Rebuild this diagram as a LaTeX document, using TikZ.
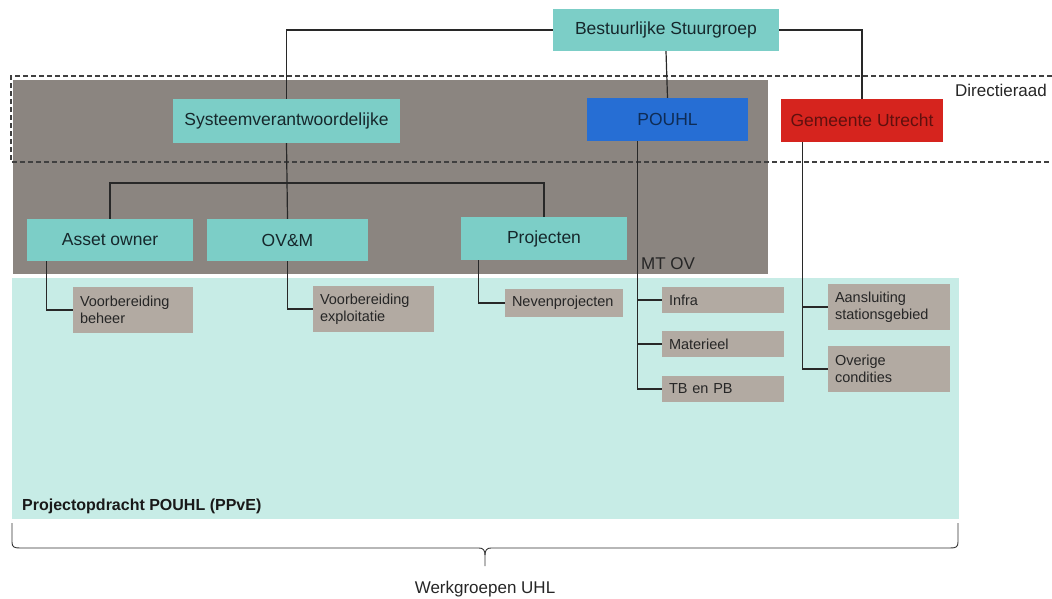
\documentclass[tikz,border=0pt]{standalone}
\usepackage{fontspec}
\setmainfont{Liberation Sans}
\usetikzlibrary{calc}

\definecolor{tealbox}{RGB}{124,206,199}
\definecolor{mtgray}{RGB}{139,133,128}
\definecolor{pale}{RGB}{199,236,230}
\definecolor{smallgray}{RGB}{178,170,162}
\definecolor{pblue}{RGB}{38,110,212}
\definecolor{gred}{RGB}{214,36,30}
\definecolor{inkdark}{RGB}{22,40,44}
\definecolor{wire}{RGB}{40,40,40}

\tikzset{
  box/.style={rectangle, inner sep=0pt, align=center, font=\fontsize{17.5}{20}\selectfont, text=inkdark},
  mainbox/.style={box, fill=tealbox},
  subbox/.style={rectangle, inner sep=0pt, fill=smallgray, align=left, text width=#1,
                 font=\fontsize{14.5}{16.5}\selectfont, text=black!85},
  subbox/.default=100pt,
  wireline/.style={draw=wire, line width=1.2pt},
  zoneline/.style={draw=black!75, line width=1.3pt, dash pattern=on 5pt off 3pt},
  label/.style={inner sep=0pt, font=\fontsize{17}{19}\selectfont, text=black!85}
}

\begin{document}
\begin{tikzpicture}[x=1pt, y=-1pt]
\useasboundingbox (0,0) rectangle (1052,598);

% background zones
\fill[mtgray] (13,80) rectangle (768,274);
\fill[pale] (12,278) rectangle (959,519);

% Directieraad band
\draw[zoneline] (1052,76) -- (11,76) -- (11,162) -- (1052,162);
\node[label, anchor=east] (dr) at (1047,90) {Directieraad};

% boxes
\node[mainbox, minimum width=226, minimum height=42] (bs) at (666,30) {Bestuurlijke Stuurgroep};
\node[mainbox, minimum width=227, minimum height=44] (sys) at (286.5,121) {Systeemverantwoordelijke};
\node[box, fill=pblue, text=pblue!40!black, minimum width=161, minimum height=43] (pouhl) at (667.5,119.5) {POUHL};
\node[box, fill=gred, text=gred!45!black, minimum width=162, minimum height=43] (gem) at (862,120.5) {Gemeente Utrecht};

\node[mainbox, minimum width=166, minimum height=42] (asset) at (110,240) {Asset owner};
\node[mainbox, minimum width=161, minimum height=42] (ovm) at (287.5,240) {OV\&M};
\node[mainbox, minimum width=166, minimum height=43] (proj) at (544,238.5) {Projecten};

\node[label, anchor=west] (mtov) at (641,264) {MT OV};

% connectors from the steering group
\draw[wireline] (bs.west) -| (sys.north);
\draw[wireline] (bs.south) -- (pouhl.north);
\draw[wireline] (bs.east) -| (gem.north);

% MT OV tree
\coordinate (bus) at (0,183);
\draw[wireline] (sys.south) -- (ovm.north);
\draw[wireline] (asset.north) -- (asset.north |- bus) -| (proj.north);

% working groups
\node[subbox=106pt, minimum width=120, minimum height=46] (vb) at (133,310) {Voorbereiding\\beheer};
\node[subbox=107pt, minimum width=121, minimum height=46] (ve) at (373.5,309) {Voorbereiding\\exploitatie};
\node[subbox=104pt, minimum width=118, minimum height=28] (nev) at (564,303) {Nevenprojecten};
\node[subbox=108pt, minimum width=122, minimum height=26] (infra) at (723,300) {Infra};
\node[subbox=108pt, minimum width=122, minimum height=26] (mat) at (723,344) {Materieel};
\node[subbox=108pt, minimum width=122, minimum height=26] (tb) at (723,389) {TB en PB};
\node[subbox=108pt, minimum width=122, minimum height=46] (aans) at (889,307) {Aansluiting\\stationsgebied};
\node[subbox=108pt, minimum width=122, minimum height=46] (over) at (889,369) {Overige\\condities};

\draw[wireline] ($(asset.south west)+(20,0)$) |- (vb.west);
\draw[wireline] (ovm.south) |- (ve.west);
\draw[wireline] ($(proj.south west)+(18,0)$) |- (nev.west);

\coordinate (pb) at ($(pouhl.south west)+(51,0)$);
\draw[wireline] (pb) |- (infra.west);
\draw[wireline] (pb) |- (mat.west);
\draw[wireline] (pb) |- (tb.west);

\coordinate (gb) at ($(gem.south west)+(22,0)$);
\draw[wireline] (gb) |- (aans.west);
\draw[wireline] (gb) |- (over.west);

\node[label, anchor=west, font=\fontsize{16}{18}\selectfont\bfseries, text=black!90] (ppve) at (22,506) {Projectopdracht POUHL (PPvE)};

% brace under the working groups
\coordinate (bl) at (12,523);
\coordinate (br) at (958,523);
\coordinate (bt) at (485,566);
\draw[draw=black!80, line width=0.9pt]
  (bl) -- (12,542) .. controls (12,547) and (14,548) .. (20,548) -- (479,548)
  .. controls (483,548) and (485,550) .. (485,555) -- (bt);
\draw[draw=black!80, line width=0.9pt]
  (br) -- (958,542) .. controls (958,547) and (956,548) .. (950,548) -- (491,548)
  .. controls (487,548) and (485,550) .. (485,555);
\node[label] (wg) at (485,589) {Werkgroepen UHL};
\end{tikzpicture}
\end{document}
